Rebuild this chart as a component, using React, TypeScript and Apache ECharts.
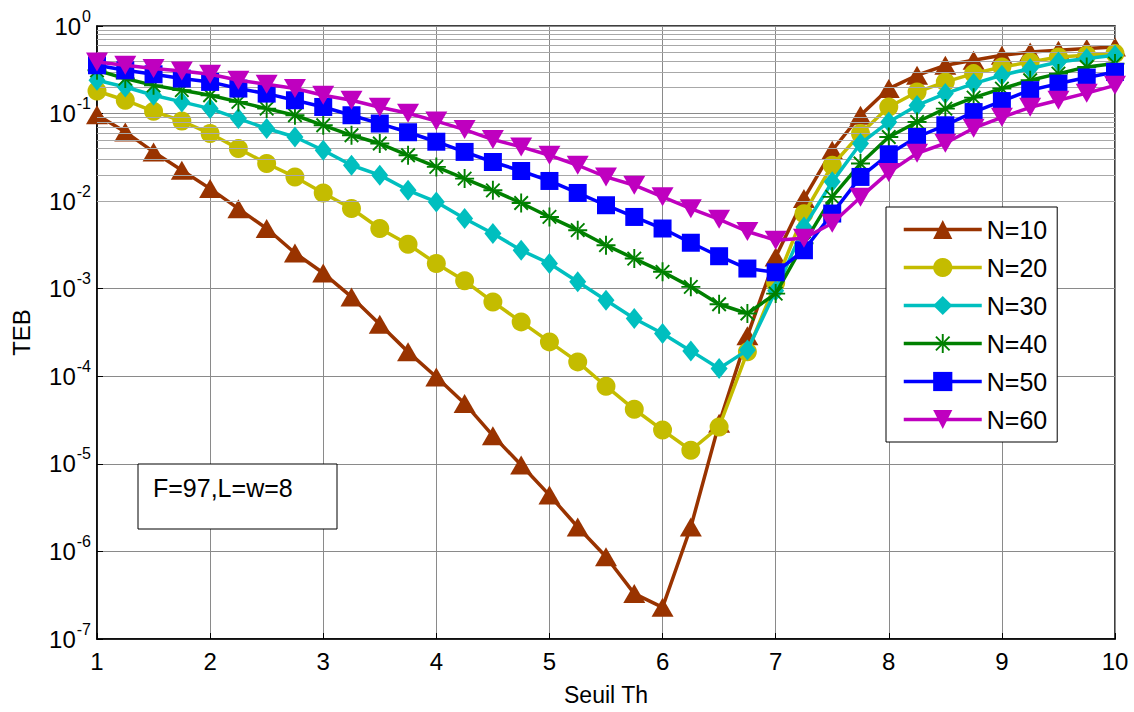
import React, { useEffect, useRef } from "react";
import * as echarts from "echarts";

const thresholds = [1, 1.25, 1.5, 1.75, 2, 2.25, 2.5, 2.75, 3, 3.25, 3.5, 3.75, 4, 4.25, 4.5, 4.75, 5, 5.25, 5.5, 5.75, 6, 6.25, 6.5, 6.75, 7, 7.25, 7.5, 7.75, 8, 8.25, 8.5, 8.75, 9, 9.25, 9.5, 9.75, 10];

const n10 = [0.097, 0.0617, 0.0365, 0.0225, 0.0139, 0.0082, 0.00487, 0.00256, 0.00151, 0.000806, 0.000393, 0.00019, 9.8e-5, 4.9e-5, 2.1e-5, 9.7e-6, 4.4e-6, 1.9e-6, 8.7e-7, 3.3e-7, 2.3e-7, 1.9e-6, 2.9e-5, 2.9e-4, 2.3e-3, 0.0107, 0.0381, 0.0957, 0.193, 0.274, 0.356, 0.406, 0.463, 0.505, 0.528, 0.552, 0.576];
const n20 = [0.181, 0.142, 0.106, 0.0823, 0.0591, 0.0398, 0.0269, 0.0189, 0.0124, 0.00824, 0.00487, 0.00322, 0.00194, 0.00123, 0.000707, 0.000418, 0.000247, 0.000146, 7.7e-5, 4.2e-5, 2.43e-5, 1.43e-5, 2.64e-5, 1.9e-4, 1.16e-3, 0.0072, 0.0257, 0.0591, 0.119, 0.176, 0.23, 0.286, 0.34, 0.388, 0.443, 0.463, 0.484];
const n30 = [0.24, 0.201, 0.162, 0.136, 0.114, 0.0877, 0.0675, 0.054, 0.0381, 0.0257, 0.0198, 0.0133, 0.0098, 0.00633, 0.00427, 0.00275, 0.00194, 0.0012, 0.00074, 0.000457, 0.000308, 0.000195, 0.000123, 0.000199, 0.00095, 0.00507, 0.0166, 0.0455, 0.0802, 0.124, 0.169, 0.22, 0.274, 0.327, 0.388, 0.425, 0.463];
const n40 = [0.312, 0.251, 0.21, 0.185, 0.162, 0.136, 0.114, 0.0957, 0.0735, 0.0565, 0.0455, 0.0334, 0.0246, 0.0181, 0.0133, 0.00953, 0.0066, 0.00466, 0.00314, 0.00221, 0.00156, 0.00105, 0.000665, 0.000521, 0.00088, 0.0033, 0.0112, 0.0269, 0.054, 0.0802, 0.114, 0.152, 0.193, 0.24, 0.286, 0.34, 0.372];
const n50 = [0.356, 0.312, 0.281, 0.251, 0.23, 0.193, 0.169, 0.142, 0.119, 0.0957, 0.0769, 0.0612, 0.0477, 0.0365, 0.028, 0.0221, 0.017, 0.0124, 0.00898, 0.0066, 0.00487, 0.00335, 0.00235, 0.0017, 0.00154, 0.00275, 0.00722, 0.0189, 0.0343, 0.054, 0.0735, 0.104, 0.139, 0.185, 0.22, 0.258, 0.299];
const n60 = [0.388, 0.356, 0.327, 0.307, 0.281, 0.24, 0.216, 0.193, 0.162, 0.142, 0.118, 0.101, 0.082, 0.0656, 0.0505, 0.0416, 0.0334, 0.0257, 0.0189, 0.0152, 0.0112, 0.0082, 0.0062, 0.0045, 0.00358, 0.00377, 0.0056, 0.0111, 0.0213, 0.0352, 0.0458, 0.068, 0.0907, 0.118, 0.142, 0.171, 0.21];

const seriesNames = ["N=10", "N=20", "N=30", "N=40", "N=50", "N=60"];
const seriesValues = [n10, n20, n30, n40, n50, n60];
const seriesColors = ["#993300", "#c4bc00", "#00bfbf", "#008000", "#0000ff", "#bf00bf"];

const minorGridValues = [
  2e-7, 3e-7, 4e-7, 5e-7, 6e-7, 7e-7, 8e-7, 9e-7,
  2e-6, 3e-6, 4e-6, 5e-6, 6e-6, 7e-6, 8e-6, 9e-6,
  2e-5, 3e-5, 4e-5, 5e-5, 6e-5, 7e-5, 8e-5, 9e-5,
  2e-4, 3e-4, 4e-4, 5e-4, 6e-4, 7e-4, 8e-4, 9e-4,
  2e-3, 3e-3, 4e-3, 5e-3, 6e-3, 7e-3, 8e-3, 9e-3,
  2e-2, 3e-2, 4e-2, 5e-2, 6e-2, 7e-2, 8e-2, 9e-2,
  0.2, 0.3, 0.4, 0.5, 0.6, 0.7, 0.8, 0.9,
];

const asterisk =
  "path://M9,0 L11,0 L11,20 L9,20 Z M0,9 L20,9 L20,11 L0,11 Z M2.2,3.6 L3.6,2.2 L17.8,16.4 L16.4,17.8 Z M17.8,3.6 L16.4,2.2 L2.2,16.4 L3.6,17.8 Z";

const FONT = "'Liberation Sans', Arial, Helvetica, sans-serif";

export default function App() {
  const ref = useRef<HTMLDivElement>(null);

  useEffect(() => {
    document.body.style.margin = "0";
    const chart = echarts.init(ref.current!, undefined, { renderer: "svg" });

    const symbols = ["triangle", "circle", "diamond", asterisk, "rect", "triangle"];
    const sizes: any[] = [[22, 19], 19, [17, 21], 19, 18, [22, 19]];
    const rotates = [0, 0, 0, 0, 0, 180];

    const series: any[] = seriesNames.map((name, i) => ({
      name,
      type: "line",
      data: thresholds.map((x, j) => [x, seriesValues[i][j]]),
      symbol: symbols[i],
      symbolSize: sizes[i],
      symbolRotate: rotates[i],
      showAllSymbol: true,
      clip: false,
      lineStyle: { color: seriesColors[i], width: 3.5 },
      itemStyle: { color: seriesColors[i] },
      z: 3 + i,
    }));

    series.push({
      name: "minor-grid",
      type: "line",
      data: [],
      silent: true,
      z: 1,
      markLine: {
        silent: true,
        symbol: "none",
        label: { show: false },
        animation: false,
        lineStyle: { color: "#a8a8a8", width: 1, type: "solid" },
        data: minorGridValues.map((v) => ({ yAxis: v })),
      },
    });

    chart.setOption({
      animation: false,
      backgroundColor: "#ffffff",
      grid: {
        left: 97,
        right: 19,
        top: 26,
        bottom: 73,
        show: true,
        borderColor: "#000",
        borderWidth: 1.5,
        backgroundColor: "transparent",
      },
      legend: {
        data: seriesNames,
        orient: "vertical",
        left: 886,
        top: 207,
        itemWidth: 78,
        itemHeight: 24,
        itemGap: 13,
        padding: [10, 10, 10, 16],
        backgroundColor: "#fff",
        borderColor: "#000",
        borderWidth: 1,
        lineStyle: { width: 3.5 },
        textStyle: { fontSize: 25, color: "#000", fontFamily: FONT },
      },
      xAxis: {
        type: "value",
        min: 1,
        max: 10,
        interval: 1,
        name: "Seuil Th",
        nameLocation: "middle",
        nameGap: 44,
        nameTextStyle: { fontSize: 23, color: "#000", fontFamily: FONT },
        axisLine: { show: true, onZero: false, lineStyle: { color: "#000", width: 1.5 } },
        axisTick: { show: true, inside: true, length: 6, lineStyle: { color: "#000" } },
        axisLabel: { fontSize: 24, color: "#000", margin: 10, fontFamily: FONT },
        splitLine: { show: true, lineStyle: { color: "#8a8a8a", width: 1 } },
      },
      yAxis: {
        type: "log",
        logBase: 10,
        min: 1e-7,
        max: 1,
        name: "TEB",
        nameLocation: "middle",
        nameGap: 64,
        nameTextStyle: { fontSize: 24, color: "#000", fontFamily: FONT },
        axisLine: { show: true, lineStyle: { color: "#000", width: 1.5 } },
        axisTick: { show: true, inside: true, length: 6, lineStyle: { color: "#000" } },
        axisLabel: {
          color: "#000",
          margin: 6,
          fontFamily: FONT,
          formatter: (v: number) => `{b|10}{s|${Math.round(Math.log10(v))}}`,
          rich: {
            b: { fontSize: 24, color: "#000", fontFamily: FONT },
            s: { fontSize: 16, color: "#000", fontFamily: FONT, padding: [0, 0, 20, 1] },
          },
        },
        splitLine: { show: true, lineStyle: { color: "#8a8a8a", width: 1 } },
      },
      graphic: [
        {
          type: "rect",
          shape: { x: 138, y: 464, width: 199, height: 65 },
          style: { fill: "#fff", stroke: "#000", lineWidth: 1 },
          z: 100,
        },
        {
          type: "text",
          x: 153,
          y: 488,
          style: {
            text: "F=97,L=w=8",
            fill: "#000",
            fontSize: 25,
            fontFamily: FONT,
            verticalAlign: "middle",
            align: "left",
          },
          z: 101,
        },
      ],
      series,
    });

    return () => chart.dispose();
  }, []);

  return <div ref={ref} style={{ width: 1134, height: 712 }} />;
}
